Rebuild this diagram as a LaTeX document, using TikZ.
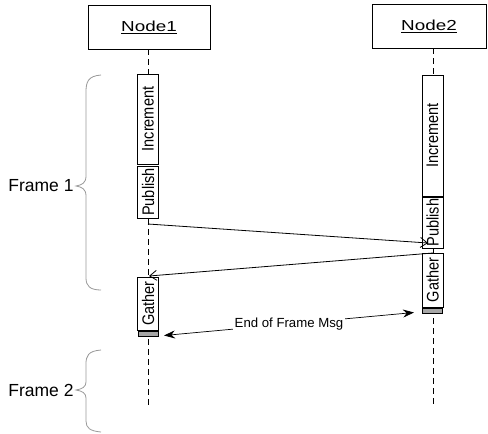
\documentclass[tikz,border=0pt]{standalone}
\usepackage{fontspec}
\setmainfont{Liberation Sans}
\usetikzlibrary{arrows.meta}
\newcommand{\acttext}[1]{\scalebox{0.97}[1.12]{#1}}
\newcommand{\objtext}[1]{\scalebox{1.3}[1]{\underline{#1}}}
\begin{document}
\begin{tikzpicture}[x=1pt,y=-1pt,
  objbox/.style={draw, line width=0.8pt, minimum width=122pt, minimum height=44pt, inner sep=0pt, font=\fontsize{14.5}{17}\selectfont},
  lifeline/.style={line width=0.8pt, dash pattern=on 6pt off 4pt},
  actbox/.style={draw, fill=white, line width=0.8pt, rotate=90, minimum height=21pt, inner sep=0pt, font=\fontsize{15}{17}\selectfont},
  endbar/.style={draw, fill=gray!70, line width=0.6pt, minimum width=20pt, minimum height=5pt, inner sep=0pt},
  msg/.style={line width=0.8pt, -{Straight Barb[length=7pt,width=10pt]}},
  endmsg/.style={line width=0.7pt, {Stealth[length=11pt,width=8pt]}-{Stealth[length=11pt,width=8pt]}},
  bracestyle/.style={draw=gray!80, line width=0.8pt},
  framelabel/.style={font=\fontsize{17.5}{19}\selectfont}
]
\useasboundingbox (0,0) rectangle (488,434);
% objects
\node[objbox] (n1) at (149,27) {\objtext{Node1}};
\node[objbox, minimum width=114pt] (n2) at (429,26) {\objtext{Node2}};
% lifelines
\coordinate (l1end) at (148,408);
\coordinate (l2end) at (433,408);
\draw[lifeline] (n1.south -| l1end) -- (l1end);
\draw[lifeline] (n2.south -| l2end) -- (l2end);
% activation boxes
\node[actbox, minimum width=90pt] (inc1) at (148,119) {\acttext{Increment}};
\node[actbox, minimum width=52pt] (pub1) at (148,192) {\acttext{Publish}};
\node[actbox, minimum width=53pt] (gat1) at (148,303.5) {\acttext{Gather}};
\node[endbar] (bar1) at (148,333.5) {};
\node[actbox, minimum width=121pt] (inc2) at (432.5,135.5) {\acttext{Increment}};
\node[actbox, minimum width=51pt] (pub2) at (432.5,222.5) {\acttext{Publish}};
\node[actbox, minimum width=54pt] (gat2) at (432.5,280) {\acttext{Gather}};
\node[endbar] (bar2) at (432.5,310.5) {};
% messages
\coordinate (m1s) at (148,224);
\coordinate (m1e) at (428,243);
\coordinate (m2s) at (433,253);
\coordinate (m2e) at (149,276);
\draw[msg] (m1s) -- (m1e);
\draw[msg] (m2s) -- (m2e);
\coordinate (e1) at (164,335.5);
\coordinate (e2) at (414,312.5);
\draw[endmsg] (e1) -- node[fill=white, inner sep=1.5pt, font=\fontsize{13.2}{15}\selectfont] (eml) {End of Frame Msg} (e2);
% braces
\draw[bracestyle] (101,75) .. controls (88,76) and (86,82) .. (86,92)
  -- (86,176) .. controls (86,183) and (82,185) .. (76,186)
  .. controls (82,187) and (86,189) .. (86,196)
  -- (86,278) .. controls (86,286) and (90,290) .. (101,290);
\node[framelabel] (f1) at (41,186) {Frame 1};
\draw[bracestyle] (101,350) .. controls (88,351) and (86,356) .. (86,364)
  -- (86,382) .. controls (86,387) and (82,389) .. (76,390)
  .. controls (82,391) and (86,393) .. (86,398)
  -- (86,421) .. controls (86,428) and (90,431) .. (101,432);
\node[framelabel] (f2) at (41,390) {Frame 2};
\end{tikzpicture}
\end{document}
